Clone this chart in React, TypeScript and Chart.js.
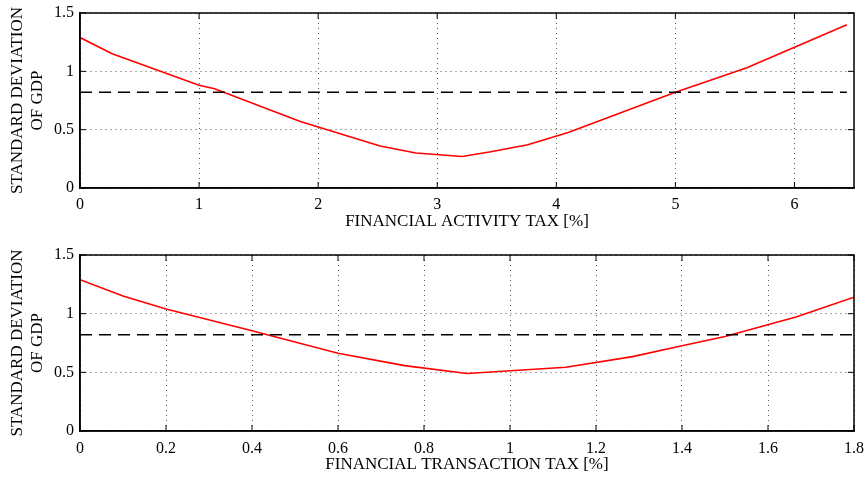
import { useEffect, useRef } from "react";
import { Chart, registerables } from "chart.js";

Chart.register(...registerables);

// ---- data ----
const fatX = [0, 0.27, 1.0, 1.13, 1.85, 2.52, 2.82, 3.21, 3.45, 3.76, 4.1, 5.0, 5.6, 6.44];
const fatY = [1.29, 1.15, 0.88, 0.85, 0.57, 0.36, 0.3, 0.27, 0.31, 0.37, 0.475, 0.82, 1.03, 1.4];
const fttX = [0, 0.1, 0.2, 0.4, 0.6, 0.755, 0.9, 1.13, 1.285, 1.4, 1.5, 1.665, 1.8];
const fttY = [1.29, 1.15, 1.04, 0.855, 0.663, 0.557, 0.49, 0.543, 0.634, 0.726, 0.806, 0.971, 1.14];
const benchmarkTop = 0.82;
const benchmarkBottom = 0.82;

const yTicks = [0, 0.5, 1, 1.5];
const fatTicks = [0, 1, 2, 3, 4, 5, 6];
const fttTicks = [0, 0.2, 0.4, 0.6, 0.8, 1, 1.2, 1.4, 1.6, 1.8];

const yTitle = ["STANDARD DEVIATION", "OF GDP"];
const fatTitle = "FINANCIAL ACTIVITY TAX [%]";
const fttTitle = "FINANCIAL TRANSACTION TAX [%]";

const FONT = "'Liberation Serif', 'Times New Roman', serif";

const framePlugin = {
  id: "frameTicks",
  afterDraw(chart: any) {
    const { ctx, chartArea } = chart;
    const { left, right, top, bottom } = chartArea;
    const xs = chart.scales.x;
    const ys = chart.scales.y;
    ctx.save();
    ctx.strokeStyle = "#000";
    ctx.lineWidth = 1;
    ctx.setLineDash([]);
    ctx.beginPath();
    xs.ticks.forEach((t: any) => {
      const px = xs.getPixelForValue(t.value);
      ctx.moveTo(px, bottom);
      ctx.lineTo(px, bottom - 6);
      ctx.moveTo(px, top);
      ctx.lineTo(px, top + 6);
    });
    ys.ticks.forEach((t: any) => {
      const py = ys.getPixelForValue(t.value);
      ctx.moveTo(left, py);
      ctx.lineTo(left + 6, py);
      ctx.moveTo(right, py);
      ctx.lineTo(right - 6, py);
    });
    ctx.stroke();
    ctx.lineWidth = 1.5;
    ctx.strokeRect(left, top, right - left, bottom - top);
    ctx.restore();
  },
};

type PanelProps = {
  xs: number[];
  ys: number[];
  bench: number;
  xTicks: number[];
  xMax: number;
  xTitle: string;
  width: number;
  height: number;
  padTop: number;
  xAxisHeight: number;
  tickPad: number;
  titlePadBottom: number;
};

function Panel(p: PanelProps) {
  const ref = useRef<HTMLCanvasElement | null>(null);
  useEffect(() => {
    if (!ref.current) return;
    const curve = p.xs.map((x, i) => ({ x, y: p.ys[i] }));
    const bench = [
      { x: p.xs[0], y: p.bench },
      { x: p.xs[p.xs.length - 1], y: p.bench },
    ];
    const chart = new Chart(ref.current, {
      type: "line",
      data: {
        datasets: [
          {
            data: bench,
            borderColor: "#000",
            borderWidth: 1.5,
            borderDash: [12, 7],
            pointRadius: 0,
            tension: 0,
          },
          {
            data: curve,
            borderColor: "#ff0000",
            borderWidth: 1.6,
            pointRadius: 0,
            tension: 0,
          },
        ],
      },
      options: {
        responsive: false,
        animation: false,
        devicePixelRatio: 1,
        layout: { padding: { top: p.padTop, right: 13, left: 0, bottom: 0 } },
        plugins: { legend: { display: false }, tooltip: { enabled: false } },
        scales: {
          x: {
            type: "linear",
            min: 0,
            max: p.xMax,
            afterBuildTicks: (s: any) => {
              s.ticks = p.xTicks.map((v) => ({ value: v }));
            },
            afterFit: (s: any) => {
              s.height = p.xAxisHeight;
              s.paddingLeft = 0;
              s.paddingRight = 0;
            },
            ticks: {
              color: "#000",
              padding: p.tickPad,
              maxRotation: 0,
              autoSkip: false,
              font: { family: FONT, size: 16 },
              callback: (v: any) => String(v),
            },
            grid: {
              color: "#555",
              lineWidth: 1,
              drawTicks: false,
            },
            border: { display: true, color: "#000", width: 1.5, dash: [1, 4] },
            title: {
              display: true,
              text: p.xTitle,
              color: "#000",
              font: { family: FONT, size: 17 },
              padding: { top: 0, bottom: p.titlePadBottom },
            },
          },
          y: {
            type: "linear",
            min: 0,
            max: 1.5,
            afterBuildTicks: (s: any) => {
              s.ticks = yTicks.map((v) => ({ value: v }));
            },
            afterFit: (s: any) => {
              s.width = 80;
              s.paddingTop = 0;
              s.paddingBottom = 0;
            },
            ticks: {
              color: "#000",
              padding: 6,
              font: { family: FONT, size: 16 },
              callback: (v: any) => String(v),
            },
            grid: {
              color: "#555",
              lineWidth: 1,
              drawTicks: false,
            },
            border: { display: true, color: "#000", width: 1.5, dash: [1, 4] },
            title: {
              display: true,
              text: yTitle,
              color: "#000",
              font: { family: FONT, size: 17 },
              padding: { top: 7, bottom: 0 },
            },
          },
        },
      },
      plugins: [framePlugin],
    } as any);
    return () => chart.destroy();
  }, []);
  return (
    <canvas
      ref={ref}
      width={p.width}
      height={p.height}
      style={{ display: "block", width: p.width, height: p.height }}
    />
  );
}

export default function App() {
  return (
    <div
      style={{
        position: "absolute",
        left: 0,
        top: 0,
        width: 867,
        height: 479,
        background: "#fff",
      }}
    >
      <Panel
        xs={fatX}
        ys={fatY}
        bench={benchmarkTop}
        xTicks={fatTicks}
        xMax={6.5}
        xTitle={fatTitle}
        width={867}
        height={240}
        padTop={13}
        xAxisHeight={52}
        tickPad={7}
        titlePadBottom={8}
      />
      <Panel
        xs={fttX}
        ys={fttY}
        bench={benchmarkBottom}
        xTicks={fttTicks}
        xMax={1.8}
        xTitle={fttTitle}
        width={867}
        height={239}
        padTop={15}
        xAxisHeight={48}
        tickPad={8}
        titlePadBottom={4}
      />
    </div>
  );
}
